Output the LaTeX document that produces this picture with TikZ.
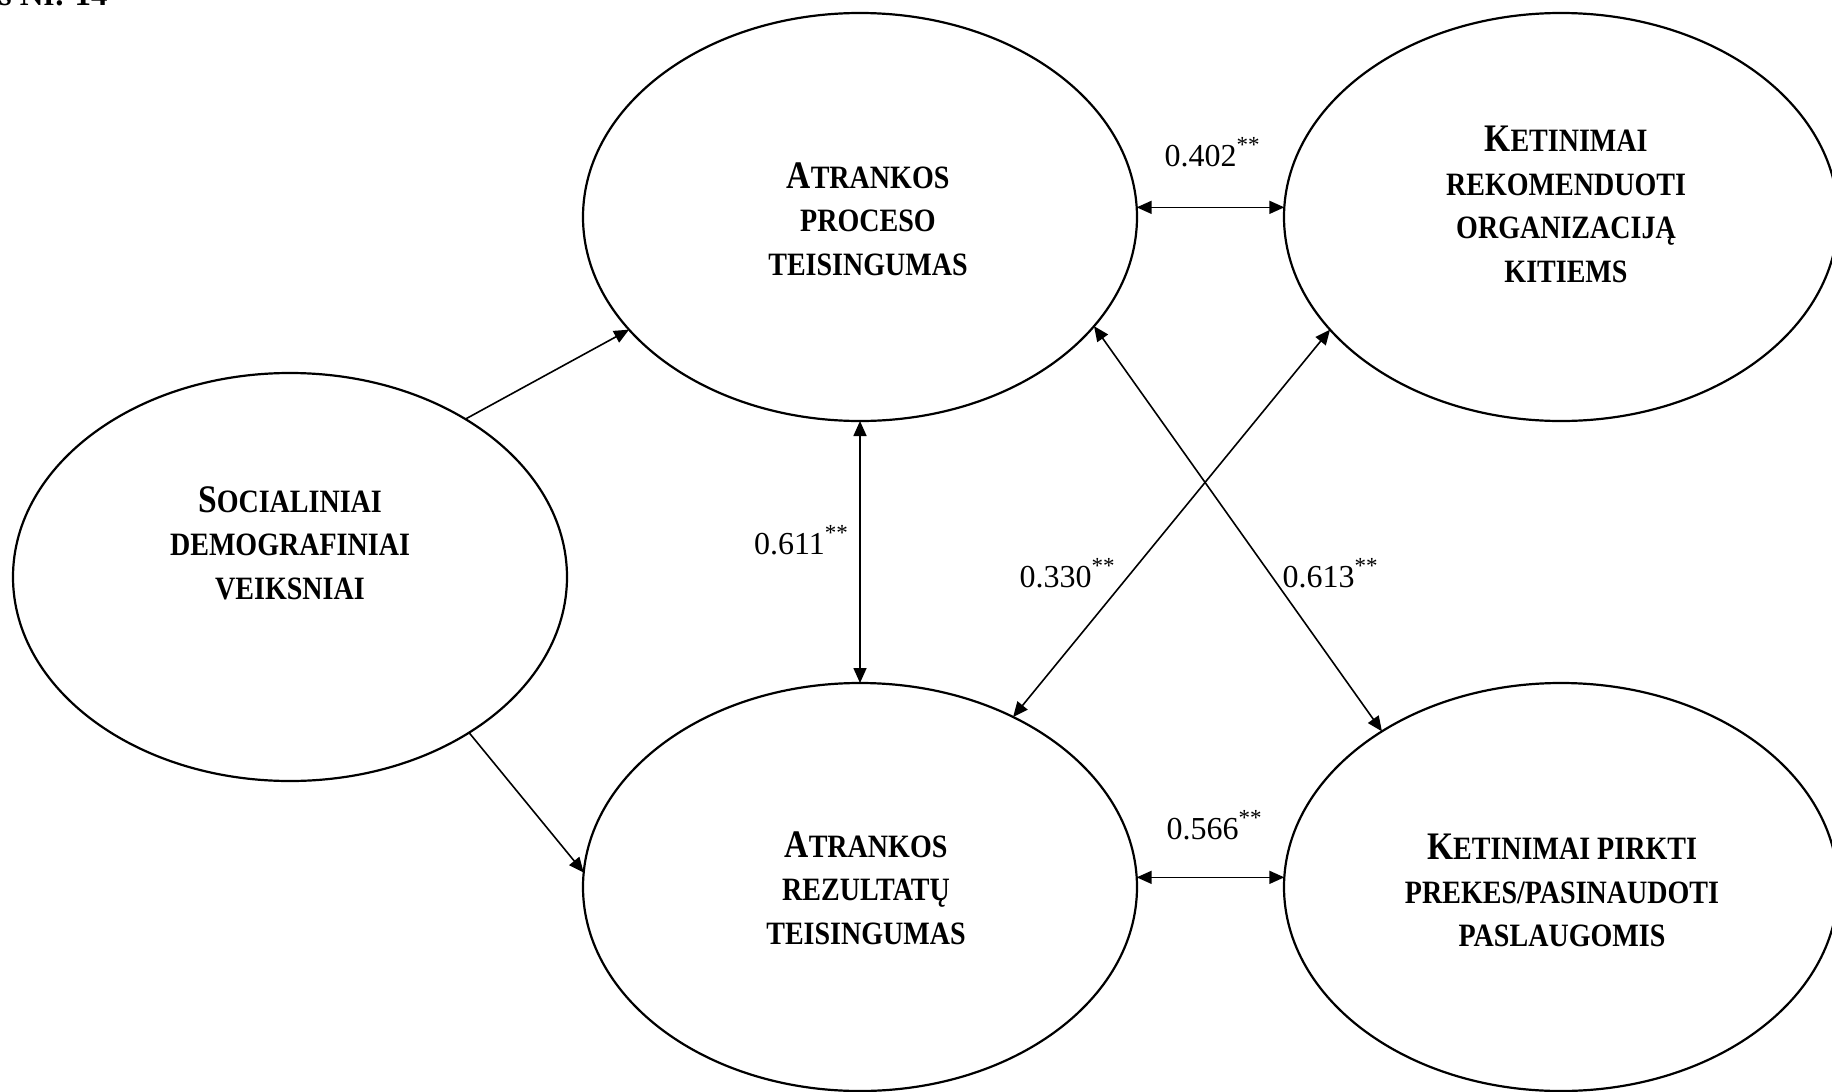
\documentclass[tikz,border=0pt]{standalone}
\usepackage{fontspec}
\setmainfont{Liberation Serif}
\newfontfamily\dfont[FakeStretch=0.86]{Liberation Serif}
\usetikzlibrary{shapes.geometric,arrows.meta}
\newcommand\BigL[1]{{\fontsize{19.5}{21.75}\selectfont #1}}
\newcommand\stars{\raisebox{0.42em}{\fontsize{11.5}{12}\selectfont **}}
\begin{document}
\begin{tikzpicture}[x=0.5pt,y=-0.5pt,
  ell/.style={draw, line width=1.1pt, ellipse, minimum width=277pt, minimum height=204pt, inner sep=0pt, outer sep=0pt},
  lbl/.style={align=center, inner sep=0pt, anchor=north, font=\dfont\bfseries\fontsize{16.3}{21.75}\selectfont},
  num/.style={inner sep=0pt, font=\fontsize{16}{19}\selectfont},
  conn/.style={line width=0.8pt},
  arr/.style={conn, -{Triangle[length=7.5pt,width=6.5pt]}},
  darr/.style={conn, {Triangle[length=7.5pt,width=6.5pt]}-{Triangle[length=7.5pt,width=6.5pt]}}]
\useasboundingbox (0,0) rectangle (1832,1092);
\node[anchor=base east, inner sep=0pt, font=\bfseries\fontsize{16.5}{18}\selectfont] (title) at (108,5) {as Nr. 14};
\node[ell] (soc) at (290,577) {};
\node[ell] (apt) at (860,217) {};
\node[ell] (kr) at (1561,217) {};
\node[ell] (art) at (860,887) {};
\node[ell] (kp) at (1561,887) {};
\node[lbl] (soct) at (290,486) {\BigL{S}OCIALINIAI\\DEMOGRAFINIAI\\VEIKSNIAI};
\node[lbl] (aptt) at (868,162) {\BigL{A}TRANKOS\\PROCESO\\TEISINGUMAS};
\node[lbl] (krt) at (1566,126) {\BigL{K}ETINIMAI\\REKOMENDUOTI\\ORGANIZACIJĄ\\KITIEMS};
\node[lbl] (artt) at (866,831) {\BigL{A}TRANKOS\\REZULTATŲ\\TEISINGUMAS};
\node[lbl] (kpt) at (1562,834) {\BigL{K}ETINIMAI PIRKTI\\PREKES/PASINAUDOTI\\PASLAUGOMIS};
\draw[arr] (soc.42) -- (apt.206);
\draw[arr] (soc.319) -- (art.177);
\draw[darr] (apt.south) -- (art.north);
\draw[darr] (apt.2) -- (kr.178);
\draw[darr] (art.2) -- (kp.178);
\draw[darr] (apt.335) -- (kp.139);
\draw[darr] (kr.206) -- (art.48);
\node[num] (l402) at (1212,152) {0.402\stars};
\node[num] (l566) at (1214,825) {0.566\stars};
\node[num] (l611) at (801,540) {0.611\stars};
\node[num] (l330) at (1067,573) {0.330\stars};
\node[num] (l613) at (1330,573) {0.613\stars};
\end{tikzpicture}
\end{document}
